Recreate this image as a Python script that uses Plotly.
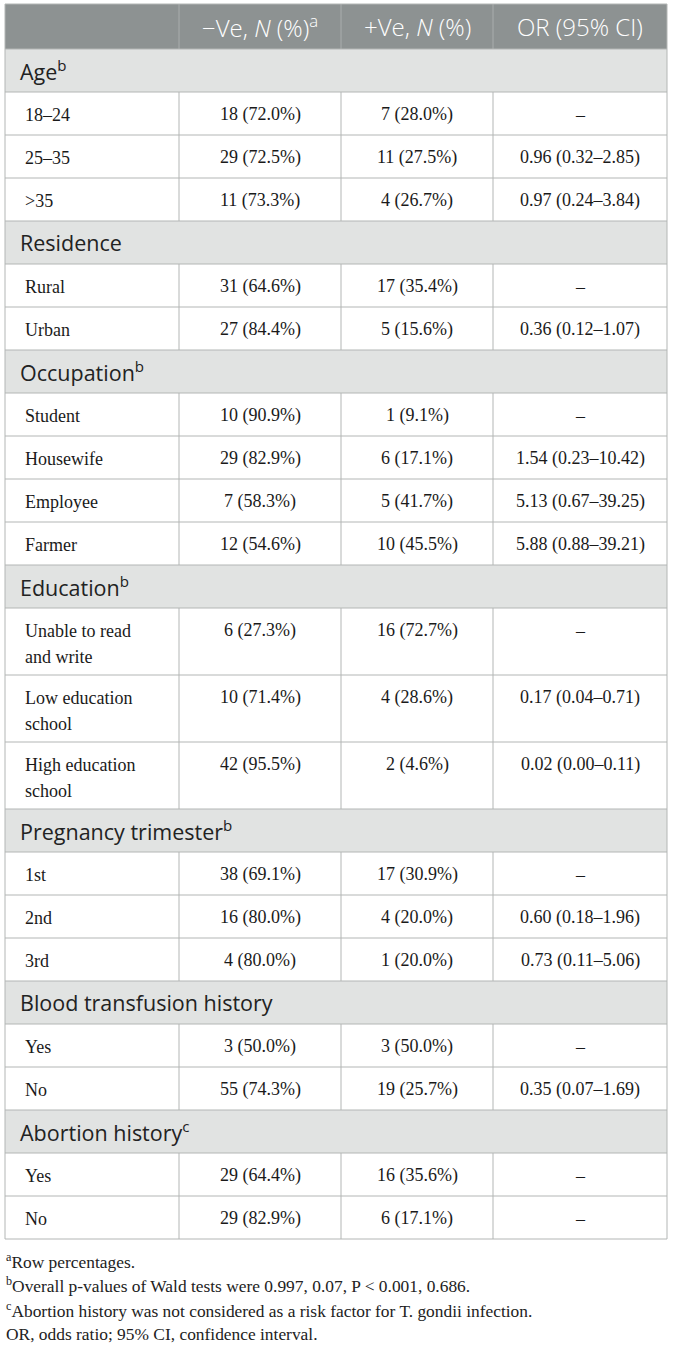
import plotly.graph_objects as go

# данные таблицы
col_headers = ["", "\u2212Ve, <i>N</i> (%)<sup>a</sup>", "+Ve, <i>N</i> (%)", "OR (95% CI)"]

section_names = ["Age", "Residence", "Occupation", "Education",
                 "Pregnancy trimester", "Blood transfusion history", "Abortion history"]
section_notes = ["b", "", "b", "b", "b", "", "c"]

row_section = [0, 0, 0, 1, 1, 2, 2, 2, 2, 3, 3, 3, 4, 4, 4, 5, 5, 6, 6]
row_labels = ["18\u201324", "25\u201335", ">35", "Rural", "Urban",
              "Student", "Housewife", "Employee", "Farmer",
              "Unable to read<br>and write", "Low education<br>school", "High education<br>school",
              "1st", "2nd", "3rd", "Yes", "No", "Yes", "No"]
neg_n = [18, 29, 11, 31, 27, 10, 29, 7, 12, 6, 10, 42, 38, 16, 4, 3, 55, 29, 29]
neg_pct = [72.0, 72.5, 73.3, 64.6, 84.4, 90.9, 82.9, 58.3, 54.6, 27.3, 71.4, 95.5,
           69.1, 80.0, 80.0, 50.0, 74.3, 64.4, 82.9]
pos_n = [7, 11, 4, 17, 5, 1, 6, 5, 10, 16, 4, 2, 17, 4, 1, 3, 19, 16, 6]
pos_pct = [28.0, 27.5, 26.7, 35.4, 15.6, 9.1, 17.1, 41.7, 45.5, 72.7, 28.6, 4.6,
           30.9, 20.0, 20.0, 50.0, 25.7, 35.6, 17.1]
or_est = [None, 0.96, 0.97, None, 0.36, None, 1.54, 5.13, 5.88, None, 0.17, 0.02,
          None, 0.60, 0.73, None, 0.35, None, None]
or_low = [None, 0.32, 0.24, None, 0.12, None, 0.23, 0.67, 0.88, None, 0.04, 0.00,
          None, 0.18, 0.11, None, 0.07, None, None]
or_high = [None, 2.85, 3.84, None, 1.07, None, 10.42, 39.25, 39.21, None, 0.71, 0.11,
           None, 1.96, 5.06, None, 1.69, None, None]

footnotes = [
    "<sup>a</sup>Row percentages.",
    "<sup>b</sup>Overall p-values of Wald tests were 0.997, 0.07, P < 0.001, 0.686.",
    "<sup>c</sup>Abortion history was not considered as a risk factor for T. gondii infection.",
    "OR, odds ratio; 95% CI, confidence interval.",
]

# геометрия (пиксели)
W, H = 673, 1347
col_x = [5, 179, 341, 493, 667]
top = 4
header_h = 45
row_h = 43
line_step = 24

header_bg = "#8d9292"
section_bg = "#e1e3e2"
grid_color = "#b3b6b5"
sep_color = "#a9adad"

sans = "Open Sans, Noto Sans, sans-serif"
serif = "Liberation Serif, DejaVu Serif, serif"

shapes = []
annotations = []


def hline(y):
    shapes.append(dict(type="line", x0=col_x[0], x1=col_x[-1], y0=y, y1=y,
                       line=dict(color=grid_color, width=1)))


def vlines(y0, y1, inner=True, color=grid_color):
    xs = col_x if inner else [col_x[0], col_x[-1]]
    for i, x in enumerate(xs):
        c = color if 0 < i < len(xs) - 1 else grid_color
        shapes.append(dict(type="line", x0=x, x1=x, y0=y0, y1=y1,
                           line=dict(color=c, width=1)))


def text(x, y, s, font, size, color, anchor="center", weight=None):
    f = dict(family=font, size=size, color=color)
    if weight:
        f["weight"] = weight
    annotations.append(dict(x=x, y=y, text=s, showarrow=False, xanchor=anchor,
                            yanchor="middle", font=f))


def fmt_or(i):
    if or_est[i] is None:
        return "\u2013"
    return f"{or_est[i]:.2f} ({or_low[i]:.2f}\u2013{or_high[i]:.2f})"


# шапка
y = top
shapes.append(dict(type="rect", x0=col_x[0], x1=col_x[-1], y0=y, y1=y + header_h,
                   fillcolor=header_bg, line=dict(width=0), layer="below"))
vlines(y, y + header_h, color=sep_color)
for c in range(1, 4):
    text((col_x[c] + col_x[c + 1]) / 2, y + header_h / 2, col_headers[c], sans, 24, "white",
         weight=300)
hline(y)
y += header_h

# строки по разделам
for s, name in enumerate(section_names):
    hline(y)
    shapes.append(dict(type="rect", x0=col_x[0], x1=col_x[-1], y0=y, y1=y + row_h,
                       fillcolor=section_bg, line=dict(width=0), layer="below"))
    vlines(y, y + row_h, inner=False)
    label = name + (f"<sup>{section_notes[s]}</sup>" if section_notes[s] else "")
    text(col_x[0] + 13, y + row_h / 2, label, sans, 21.5, "#222222", anchor="left")
    y += row_h
    for i in [k for k, v in enumerate(row_section) if v == s]:
        hline(y)
        lines = row_labels[i].split("<br>")
        h = row_h + line_step * (len(lines) - 1)
        vlines(y, y + h)
        first = y + row_h / 2 + 1
        for j, ln in enumerate(lines):
            text(col_x[0] + 18, first + j * 26, ln, serif, 18, "#1a1a1a", anchor="left")
        text((col_x[1] + col_x[2]) / 2, first, f"{neg_n[i]} ({neg_pct[i]:.1f}%)", serif, 18, "#1a1a1a")
        text((col_x[2] + col_x[3]) / 2, first, f"{pos_n[i]} ({pos_pct[i]:.1f}%)", serif, 18, "#1a1a1a")
        text((col_x[3] + col_x[4]) / 2, first, fmt_or(i), serif, 18, "#1a1a1a")
        y += h
hline(y)

# примечания
fy = y + 22
for k, note in enumerate(footnotes):
    text(col_x[0] - 1, fy + k * 24.3, note, serif, 17.4, "#222222", anchor="left")

fig = go.Figure()
fig.update_layout(
    width=W, height=H,
    margin=dict(l=0, r=0, t=0, b=0),
    paper_bgcolor="white", plot_bgcolor="white",
    xaxis=dict(range=[0, W], visible=False, fixedrange=True),
    yaxis=dict(range=[H, 0], visible=False, fixedrange=True),
    shapes=shapes, annotations=annotations,
    showlegend=False,
)
# убираем отступ страницы, чтобы координаты совпадали с пикселями окна
fig.write_html("out.html", config={"displayModeBar": False},
               post_script="document.body.style.margin='0';")
